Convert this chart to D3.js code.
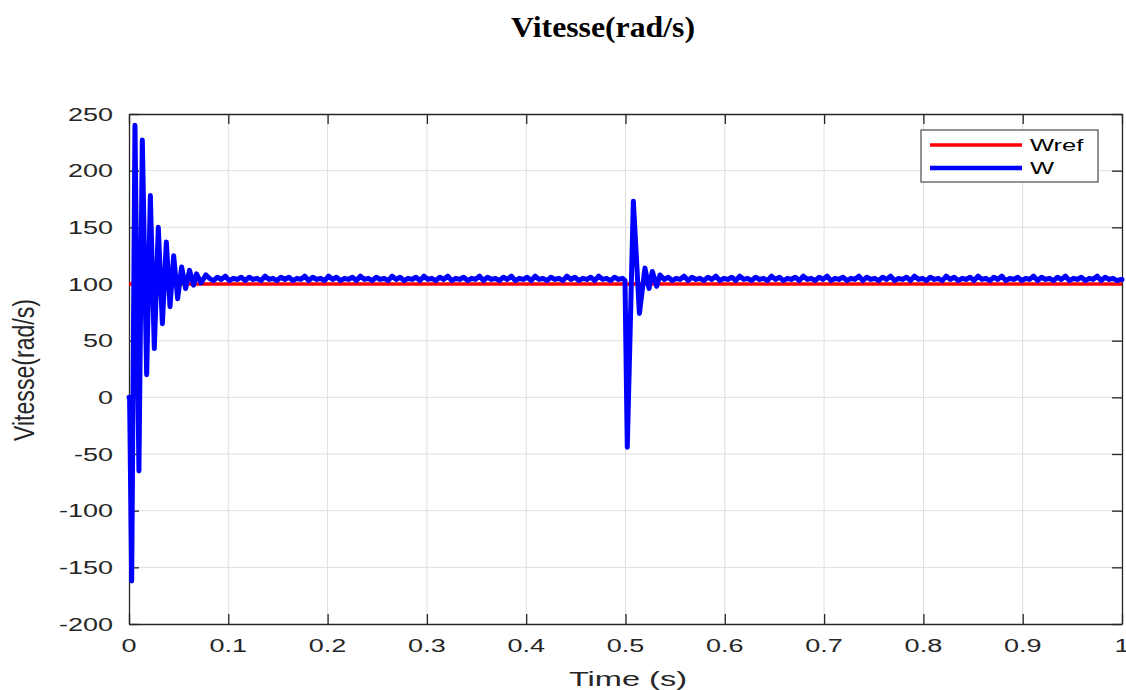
<!DOCTYPE html>
<html>
<head>
<meta charset="utf-8">
<script src="https://cdn.jsdelivr.net/npm/d3@7"></script>
<style>
    body { margin: 0; background: white; }
    text { font-family: "Liberation Sans", Arial, sans-serif; }
</style>
</head>
<body>
<div id="main"></div>
<script>
// ---- data ----
const xTicks = [0, 0.1, 0.2, 0.3, 0.4, 0.5, 0.6, 0.7, 0.8, 0.9, 1];
const xTickLabels = ["0", "0.1", "0.2", "0.3", "0.4", "0.5", "0.6", "0.7", "0.8", "0.9", "1"];
const yTicks = [-200, -150, -100, -50, 0, 50, 100, 150, 200, 250];

const wrefTime = [0, 1];
const wrefValues = [100, 100];

// start-up transient
const startTime = [0, 0.0006, 0.0027, 0.006, 0.010, 0.0134, 0.0178, 0.0215, 0.0255, 0.0295, 0.0336,
    0.0376, 0.0413, 0.045, 0.049, 0.053, 0.057, 0.061, 0.065, 0.068, 0.0725, 0.0775];
const startValues = [0, 0, -162, 240, -65, 227, 20, 178, 43, 150, 65,
    137, 80, 125, 87, 115, 96, 112, 99, 109, 101, 108];

// ripple, one sample every 4 ms from 0.081 s
const ripple1Start = 0.081;
const ripple1 = [
    105, 103, 106, 104, 107, 103, 105, 104, 106, 103,
    106, 104, 105, 103, 107, 104, 105, 103, 106, 104,
    106, 103, 105, 104, 107, 103, 106, 104, 105, 103,
    107, 104, 106, 103, 105, 104, 106, 103, 107, 104,
    105, 103, 106, 104, 105, 103, 107, 104, 106, 103,
    105, 104, 106, 103, 107, 104, 105, 103, 106, 104,
    107, 103, 105, 104, 106, 103, 105, 104, 107, 103,
    106, 104, 105, 103, 106, 104, 107, 103, 105, 104,
    106, 103, 107, 104, 105, 103, 106, 104, 105, 103,
    107, 104, 106, 103, 105, 104, 106, 103, 107, 104,
    105, 103, 106, 104, 105];

// load step transient at 0.5 s
const stepTime = [0.4995, 0.5018, 0.5079, 0.514, 0.5196, 0.5237, 0.527, 0.5314, 0.5347];
const stepValues = [103, -44, 173, 74, 114, 96, 111, 98, 108];

// ripple after the step, one sample every 4 ms from 0.539 s
const ripple2Start = 0.539;
const ripple2 = [
    104, 106, 103, 105, 104, 107, 103, 106, 104, 105,
    103, 106, 104, 107, 103, 105, 104, 106, 103, 107,
    104, 105, 103, 106, 104, 105, 103, 107, 104, 106,
    103, 105, 104, 106, 103, 107, 104, 105, 103, 106,
    104, 107, 103, 105, 104, 106, 103, 105, 104, 107,
    103, 106, 104, 105, 103, 106, 104, 107, 103, 105,
    104, 106, 103, 107, 104, 105, 103, 106, 104, 105,
    103, 107, 104, 106, 103, 105, 104, 106, 103, 107,
    104, 105, 103, 106, 104, 107, 103, 105, 104, 106,
    103, 105, 104, 107, 103, 106, 104, 105, 103, 106,
    104, 107, 103, 105, 104, 106, 103, 105, 104, 107,
    103, 106, 104, 105, 103, 104];
const rippleStep = 0.004;

// ---- layout ----
const ctx = {
    width: 1126,
    height: 690,
    left: 129,
    right: 1122,
    top: 114,
    bottom: 624,
    axisColor: "#262626",
    gridColor: "#dfdfdf",
    tickLen: 10,
    stretch: 1.5
};

function stretchText(sel, k) {
    sel.each(function () {
        let w = this.getComputedTextLength();
        d3.select(this).attr("textLength", w * k).attr("lengthAdjust", "spacingAndGlyphs");
    });
}

function buildSeries() {
    let pts = [];
    startTime.forEach((t, i) => pts.push([t, startValues[i]]));
    ripple1.forEach((v, i) => pts.push([ripple1Start + i * rippleStep, v]));
    stepTime.forEach((t, i) => pts.push([t, stepValues[i]]));
    ripple2.forEach((v, i) => pts.push([ripple2Start + i * rippleStep, v]));
    pts.push([1, 104]);
    return pts;
}

function createViz() {
    let svg = d3.select("#main").append("svg")
        .attr("width", ctx.width)
        .attr("height", ctx.height);

    let x = d3.scaleLinear().domain([0, 1]).range([ctx.left, ctx.right]);
    let y = d3.scaleLinear().domain([-200, 250]).range([ctx.bottom, ctx.top]);

    // grid
    let grid = svg.append("g");
    grid.selectAll(".vg").data(xTicks.slice(1, -1)).enter().append("line")
        .attr("x1", d => x(d)).attr("x2", d => x(d))
        .attr("y1", ctx.top).attr("y2", ctx.bottom)
        .attr("stroke", ctx.gridColor).attr("stroke-width", 1);
    grid.selectAll(".hg").data(yTicks.slice(1, -1)).enter().append("line")
        .attr("x1", ctx.left).attr("x2", ctx.right)
        .attr("y1", d => y(d)).attr("y2", d => y(d))
        .attr("stroke", ctx.gridColor).attr("stroke-width", 1);

    // axes with inward ticks on all four sides
    let axB = d3.axisBottom(x).tickValues(xTicks).tickSizeInner(-ctx.tickLen).tickSizeOuter(0).tickFormat("");
    let axT = d3.axisTop(x).tickValues(xTicks).tickSizeInner(-ctx.tickLen).tickSizeOuter(0).tickFormat("");
    let axL = d3.axisLeft(y).tickValues(yTicks).tickSizeInner(-ctx.tickLen).tickSizeOuter(0).tickFormat("");
    let axR = d3.axisRight(y).tickValues(yTicks).tickSizeInner(-ctx.tickLen).tickSizeOuter(0).tickFormat("");
    let axes = svg.append("g");
    axes.append("g").attr("transform", `translate(0,${ctx.bottom})`).call(axB);
    axes.append("g").attr("transform", `translate(0,${ctx.top})`).call(axT);
    axes.append("g").attr("transform", `translate(${ctx.left},0)`).call(axL);
    axes.append("g").attr("transform", `translate(${ctx.right},0)`).call(axR);
    axes.selectAll("path, line").attr("stroke", ctx.axisColor).attr("stroke-width", 1.3);

    // tick labels
    let xl = svg.append("g").selectAll("text").data(xTicks).enter().append("text")
        .attr("x", d => x(d)).attr("y", ctx.bottom + 28)
        .attr("text-anchor", "middle").attr("font-size", 18).attr("fill", ctx.axisColor)
        .text((d, i) => xTickLabels[i]);
    stretchText(xl, ctx.stretch);
    let yl = svg.append("g").selectAll("text").data(yTicks).enter().append("text")
        .attr("x", ctx.left - 16).attr("y", d => y(d) + 6.5)
        .attr("text-anchor", "end").attr("font-size", 18).attr("fill", ctx.axisColor)
        .text(d => d);
    stretchText(yl, ctx.stretch);

    // axis titles
    let xt = svg.append("text").attr("x", 628).attr("y", 686)
        .attr("text-anchor", "middle").attr("font-size", 21).attr("fill", ctx.axisColor)
        .text("Time (s)");
    stretchText(xt, 1.55);
    svg.append("text")
        .attr("transform", "translate(34,370) scale(1.25,1) rotate(-90)")
        .attr("text-anchor", "middle").attr("font-size", 23).attr("fill", ctx.axisColor)
        .attr("textLength", 142).attr("lengthAdjust", "spacingAndGlyphs")
        .text("Vitesse(rad/s)");

    // title
    svg.append("text").attr("x", 603).attr("y", 37)
        .attr("text-anchor", "middle")
        .style("font-family", "'Liberation Serif', 'Times New Roman', serif")
        .attr("font-weight", "bold").attr("font-size", 29)
        .attr("textLength", 184).attr("lengthAdjust", "spacingAndGlyphs")
        .text("Vitesse(rad/s)");

    // lines
    let line = d3.line().x(d => x(d[0])).y(d => y(d[1]));
    svg.append("path")
        .datum(wrefTime.map((t, i) => [t, wrefValues[i]]))
        .attr("d", line).attr("fill", "none")
        .attr("stroke", "#ff0000").attr("stroke-width", 3.5);
    svg.append("path")
        .datum(buildSeries())
        .attr("d", line).attr("fill", "none")
        .attr("stroke", "#0000ff").attr("stroke-width", 5)
        .attr("stroke-linejoin", "round").attr("stroke-linecap", "round");

    // legend
    let lg = svg.append("g");
    lg.append("rect").attr("x", 921).attr("y", 130).attr("width", 177).attr("height", 52)
        .attr("fill", "white").attr("stroke", ctx.axisColor).attr("stroke-width", 1);
    let items = [["Wref", "#ff0000", 3.5], ["W", "#0000ff", 4.5]];
    items.forEach((it, i) => {
        let yy = 145 + i * 23;
        lg.append("line").attr("x1", 930).attr("x2", 1022).attr("y1", yy).attr("y2", yy)
            .attr("stroke", it[1]).attr("stroke-width", it[2]);
        let t = lg.append("text").attr("x", 1030).attr("y", yy + 6)
            .attr("font-size", 17).attr("fill", "black").text(it[0]);
        stretchText(t, ctx.stretch);
    });
}

createViz();
</script>
</body>
</html>
